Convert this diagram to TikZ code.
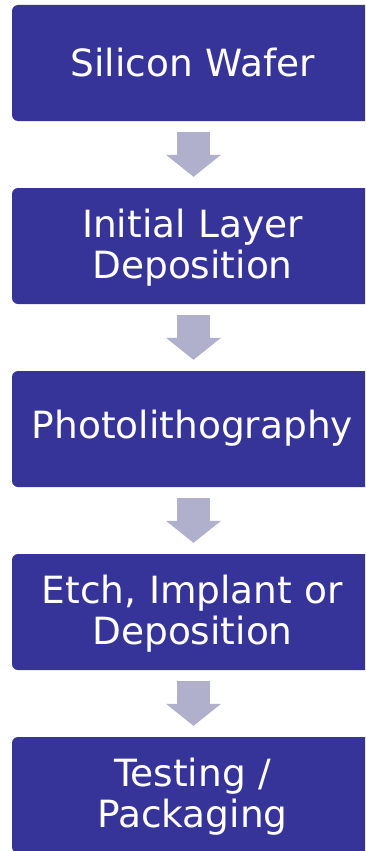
\documentclass[tikz,border=0pt]{standalone}
\usepackage{fontspec}
\setmainfont{DejaVu Sans}
\usetikzlibrary{arrows.meta}
\definecolor{boxblue}{RGB}{54,52,152}
\definecolor{arrowgray}{RGB}{176,176,204}
\newcommand\tstrut[2]{\rule[-#2]{0pt}{\dimexpr#1+#2\relax}}
\begin{document}
\begin{tikzpicture}[x=1pt,y=1pt,
  stage/.style={fill=boxblue, rounded corners=6pt, minimum width=361pt, text width=361pt,
    minimum height=116pt, inner sep=0pt, align=center, text=white,
    font=\fontsize{37.5}{40.5}\selectfont},
  flow/.style={draw=arrowgray, line width=33pt,
    -{Triangle[length=22pt,width=55pt,line width=0pt]}}]
\useasboundingbox (0,0) rectangle (365,-851);
\clip (0,0) rectangle (365,-851);
\node[stage] (s1) at (192.5,-63) {\tstrut{36pt}{9pt}Silicon Wafer};
\node[stage] (s2) at (192.5,-246) {\tstrut{33pt}{0pt}Initial Layer\\Deposition\tstrut{0pt}{9.5pt}};
\node[stage] (s3) at (192.5,-429) {\tstrut{30pt}{12pt}Photolithography};
\node[stage] (s4) at (192.5,-612) {\tstrut{33pt}{0pt}Etch, Implant or\\Deposition\tstrut{0pt}{9.5pt}};
\node[stage] (s5) at (192.5,-795) {\tstrut{33pt}{0pt}Testing /\\Packaging\tstrut{0pt}{9.5pt}};
\draw[flow] ([xshift=1pt,yshift=-11pt]s1.south) -- ([xshift=1pt,yshift=11pt]s2.north);
\draw[flow] ([xshift=1pt,yshift=-11pt]s2.south) -- ([xshift=1pt,yshift=11pt]s3.north);
\draw[flow] ([xshift=1pt,yshift=-11pt]s3.south) -- ([xshift=1pt,yshift=11pt]s4.north);
\draw[flow] ([xshift=1pt,yshift=-11pt]s4.south) -- ([xshift=1pt,yshift=11pt]s5.north);
\end{tikzpicture}
\end{document}
